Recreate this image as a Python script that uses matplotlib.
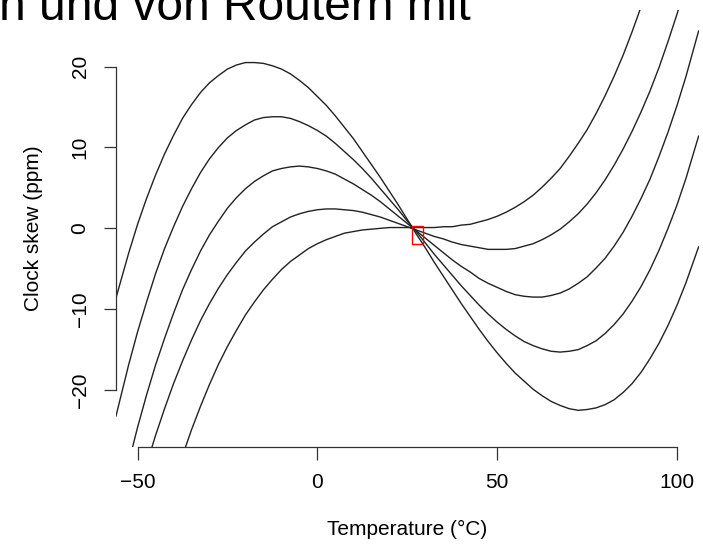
import matplotlib
matplotlib.use("Agg")
import matplotlib.pyplot as plt
from matplotlib.patches import Rectangle

plt.rcParams["font.family"] = ["Liberation Sans", "DejaVu Sans"]

temps = [-56, -52.5, -50, -47.5, -45, -42.5, -40, -37.5, -35, -32.5, -30, -27.5, -25,
         -22.5, -20, -17.5, -15, -12.5, -10, -7.5, -5, -2.5, 0, 2.5, 5, 7.5, 10, 12.5,
         15, 17.5, 20, 22.5, 25, 27.5, 30, 32.5, 35, 37.5, 40, 42.5, 45, 47.5, 50, 52.5,
         55, 57.5, 60, 62.5, 65, 67.5, 70, 72.5, 75, 77.5, 80, 82.5, 85, 87.5, 90, 92.5,
         95, 97.5, 100, 102.5, 106]

# clock skew (ppm) of the five oscillators
skew_1 = [-8.6, -3.1, 0.5, 3.7, 6.6, 9.2, 11.5, 13.6, 15.3, 16.8, 18.0, 18.9, 19.7,
          20.2, 20.5, 20.5, 20.4, 20.1, 19.7, 19.1, 18.3, 17.4, 16.3, 15.2, 13.9, 12.5,
          11.1, 9.5, 7.9, 6.3, 4.6, 2.9, 1.1, -0.7, -2.4, -4.2, -5.9, -7.6, -9.3,
          -10.9, -12.5, -14.0, -15.4, -16.7, -17.9, -18.9, -19.9, -20.7, -21.4, -21.9, -22.3, -22.5,
          -22.4, -22.2, -21.8, -21.2, -20.3, -19.2, -17.8, -16.1, -14.2, -12.0, -9.5, -6.7, -2.3]
skew_2 = [-23.2, -16.9, -12.8, -9.1, -5.6, -2.5, 0.2, 2.7, 4.9, 6.9, 8.6, 10.0, 11.2,
          12.1, 12.8, 13.4, 13.7, 13.8, 13.8, 13.6, 13.2, 12.7, 12.1, 11.4, 10.5, 9.5,
          8.5, 7.4, 6.2, 4.9, 3.6, 2.3, 0.9, -0.4, -1.8, -3.2, -4.5, -5.8, -7.1,
          -8.3, -9.5, -10.6, -11.6, -12.5, -13.3, -14.0, -14.5, -14.9, -15.2, -15.3, -15.2, -15.0,
          -14.5, -13.9, -13.0, -11.9, -10.6, -9.0, -7.2, -5.1, -2.7, 0.0, 2.9, 6.2, 11.4]
skew_3 = [-35.6, -29.0, -24.6, -20.6, -16.9, -13.6, -10.5, -7.6, -5.1, -2.8, -0.8, 0.9, 2.5,
          3.8, 4.9, 5.8, 6.5, 7.1, 7.4, 7.6, 7.7, 7.6, 7.4, 7.1, 6.7, 6.1,
          5.5, 4.8, 4.1, 3.3, 2.4, 1.5, 0.6, -0.3, -1.2, -2.1, -3.0, -3.9, -4.7,
          -5.4, -6.2, -6.8, -7.3, -7.8, -8.2, -8.4, -8.5, -8.5, -8.3, -8.0, -7.5, -6.8,
          -6.0, -4.9, -3.7, -2.2, -0.5, 1.5, 3.7, 6.1, 8.9, 11.9, 15.2, 18.8, 24.4]
skew_4 = [-43.5, -37.2, -33.1, -29.2, -25.6, -22.3, -19.2, -16.4, -13.8, -11.4, -9.3, -7.4, -5.7,
          -4.2, -2.8, -1.7, -0.7, 0.2, 0.8, 1.4, 1.8, 2.1, 2.3, 2.4, 2.4, 2.3,
          2.2, 2.0, 1.7, 1.4, 1.0, 0.6, 0.2, -0.2, -0.6, -1.0, -1.3, -1.7, -2.0,
          -2.2, -2.4, -2.6, -2.6, -2.6, -2.5, -2.2, -1.9, -1.4, -0.8, -0.1, 0.8, 1.8,
          3.0, 4.4, 6.0, 7.8, 9.8, 12.0, 14.4, 17.0, 19.9, 23.1, 26.5, 30.2, 35.8]
skew_5 = [-60.2, -52.8, -48.0, -43.4, -39.2, -35.2, -31.5, -28.1, -24.9, -22.0, -19.3, -16.8, -14.6,
          -12.6, -10.7, -9.1, -7.6, -6.3, -5.1, -4.1, -3.3, -2.5, -1.9, -1.4, -1.0, -0.6,
          -0.4, -0.2, -0.1, 0.0, 0.1, 0.1, 0.1, 0.1, 0.1, 0.1, 0.2, 0.2, 0.4,
          0.5, 0.8, 1.1, 1.5, 2.0, 2.6, 3.3, 4.1, 5.1, 6.2, 7.4, 8.9, 10.5,
          12.2, 14.2, 16.4, 18.8, 21.4, 24.3, 27.4, 30.7, 34.4, 38.3, 42.4, 46.9, 53.7]
all_skews = [skew_1, skew_2, skew_3, skew_4, skew_5]

# highlighted region around the crossing point
box_t = (26.2, 29.4)
box_skew = (-1.9, 0.33)

xticks = [-50, 0, 50, 100]
yticks = [-20, -10, 0, 10, 20]


def minus(v):
    return f"\u2212{abs(v)}" if v < 0 else str(v)


fig = plt.figure(figsize=(7.03, 5.47), dpi=100)
ax = fig.add_axes([116 / 703, 1 - 446.7 / 547, 582.6 / 703, 436.7 / 547])

for s in all_skews:
    ax.plot(temps, s, color="#222222", lw=1.0)

ax.add_patch(Rectangle((box_t[0], box_skew[0]), box_t[1] - box_t[0], box_skew[1] - box_skew[0],
                       fill=False, edgecolor="red", lw=1.0, zorder=5))

ax.set_xlim(-56, 106)
ax.set_ylim(-27, 27)
ax.set_xticks(xticks)
ax.set_yticks(yticks)
ax.set_xticklabels([minus(t) for t in xticks])
ax.set_yticklabels([minus(t) for t in yticks], rotation=90, va="center")

for side in ["top", "right"]:
    ax.spines[side].set_visible(False)
ax.spines["bottom"].set_bounds(-50, 100)
ax.spines["left"].set_bounds(-20, 20)
for side in ["bottom", "left"]:
    ax.spines[side].set_color("#333333")
    ax.spines[side].set_linewidth(0.9)
ax.tick_params(length=9, width=0.9, color="#333333", labelsize=15, pad=10)

ax.set_xlabel("Temperature (\u00b0C)", fontsize=15, labelpad=20)
ax.set_ylabel("Clock skew (ppm)", fontsize=15, labelpad=20)

# slide heading, cut off at the top of the screenshot
fig.text(471 / 703, 1 - 20 / 547, "n und von Routern mit", fontsize=34.5,
         ha="right", va="baseline")

fig.savefig("out.png", dpi=100)
